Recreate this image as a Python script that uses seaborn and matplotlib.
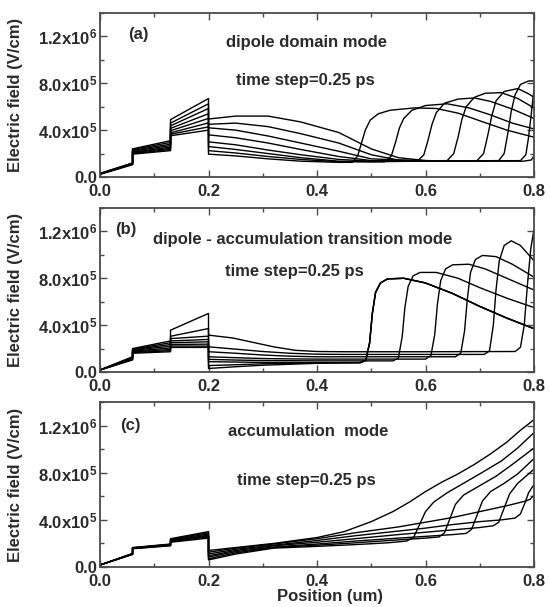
import matplotlib
matplotlib.use("Agg")
import matplotlib.pyplot as plt
import seaborn as sns
import pandas as pd
from matplotlib.ticker import MultipleLocator, FixedLocator

# ---------------- data (field values in units of 1e5 V/cm) ----------------
SCALE = 1e5
LEFT_X = [0.0, 0.06, 0.06, 0.13, 0.13, 0.2]

X_TICKS = [0.0, 0.2, 0.4, 0.6, 0.8]
X_TICK_LABELS = ["0.0", "0.2", "0.4", "0.6", "0.8"]
Y_TICKS = [0.0, 4e5, 8e5, 1.2e6]
Y_TICK_LABELS = ["0.0", r"4.0x10$^{5}$", r"8.0x10$^{5}$", r"1.2x10$^{6}$"]

PANEL_TAGS = ["(a)", "(b)", "(c)"]
PANEL_TITLES = ["dipole domain mode",
                "dipole - accumulation transition mode",
                "accumulation  mode"]
STEP_TEXT = "time step=0.25 ps"

# panel (a)
A_LEFT_Y = [
    [0.30, 1.20, 2.40, 3.10, 4.90, 6.70],
    [0.30, 1.18, 2.35, 2.95, 4.60, 6.25],
    [0.28, 1.16, 2.28, 2.80, 4.37, 5.85],
    [0.27, 1.14, 2.20, 2.68, 4.15, 5.40],
    [0.26, 1.12, 2.13, 2.55, 3.95, 5.00],
    [0.25, 1.10, 2.07, 2.45, 3.77, 4.62],
    [0.24, 1.08, 2.00, 2.35, 3.65, 4.28],
    [0.23, 1.05, 1.95, 2.25, 3.52, 4.00],
]
A_RIGHT_X = [
    [0.2, 0.25, 0.31, 0.37, 0.44, 0.5, 0.55, 0.6, 0.7, 0.78, 0.795, 0.8],
    [0.2, 0.25, 0.31, 0.37, 0.44, 0.5, 0.55, 0.65, 0.775, 0.785, 0.79, 0.795, 0.8],
    [0.2, 0.25, 0.31, 0.37, 0.44, 0.5, 0.6, 0.735, 0.745, 0.752, 0.758, 0.765, 0.775, 0.79, 0.8],
    [0.2, 0.25, 0.31, 0.37, 0.44, 0.5, 0.6, 0.695, 0.707, 0.715, 0.722, 0.73, 0.745, 0.77, 0.79, 0.8],
    [0.2, 0.25, 0.31, 0.37, 0.44, 0.5, 0.64, 0.652, 0.66, 0.667, 0.675, 0.69, 0.71, 0.74, 0.77, 0.8],
    [0.2, 0.25, 0.31, 0.37, 0.44, 0.5, 0.585, 0.597, 0.605, 0.612, 0.62, 0.635, 0.66, 0.69, 0.72, 0.76, 0.8],
    [0.2, 0.25, 0.31, 0.37, 0.44, 0.525, 0.537, 0.545, 0.552, 0.56, 0.575, 0.6, 0.64, 0.68, 0.72, 0.76, 0.8],
    [0.2, 0.25, 0.31, 0.37, 0.44, 0.465, 0.475, 0.482, 0.489, 0.498, 0.513, 0.535, 0.58, 0.62, 0.66, 0.7, 0.75, 0.8],
]
A_RIGHT_Y = [
    [4.95, 5.2, 5.2, 4.7, 3.8, 2.4, 1.65, 1.4, 1.35, 1.35, 1.45, 1.8],
    [4.5, 4.6, 4.3, 3.7, 2.9, 1.9, 1.45, 1.35, 1.4, 1.9, 3.4, 5.4, 7.5],
    [4.2, 4.0, 3.5, 2.9, 2.2, 1.55, 1.35, 1.4, 2.0, 3.8, 5.6, 7.0, 7.9, 8.2, 8.2],
    [3.6, 3.35, 2.9, 2.35, 1.75, 1.4, 1.35, 1.4, 2.0, 3.6, 5.2, 6.5, 7.3, 7.55, 7.1, 6.8],
    [3.0, 2.75, 2.3, 1.9, 1.5, 1.35, 1.4, 2.0, 3.4, 4.9, 6.0, 6.8, 7.15, 7.2, 6.7, 5.9],
    [2.6, 2.35, 2.0, 1.65, 1.35, 1.3, 1.35, 1.9, 3.2, 4.5, 5.5, 6.3, 6.65, 6.75, 6.45, 5.8, 5.0],
    [2.25, 2.05, 1.75, 1.5, 1.3, 1.3, 1.8, 3.0, 4.2, 5.0, 5.7, 6.1, 6.25, 5.9, 5.3, 4.6, 4.1],
    [1.95, 1.8, 1.55, 1.35, 1.25, 1.25, 1.8, 2.9, 4.0, 4.85, 5.4, 5.7, 5.9, 5.85, 5.45, 4.8, 4.0, 3.4],
]

# panel (b)
B_LEFT_Y = [
    [0.17, 1.30, 2.00, 2.65, 3.57, 5.00],
    [0.17, 1.27, 1.95, 2.50, 3.05, 3.71],
    [0.17, 1.23, 1.90, 2.35, 2.85, 3.06],
    [0.17, 1.19, 1.85, 2.20, 2.65, 2.78],
    [0.17, 1.15, 1.78, 2.05, 2.50, 2.58],
    [0.17, 1.11, 1.72, 1.92, 2.35, 2.38],
    [0.17, 1.07, 1.66, 1.82, 2.22, 2.21],
    [0.17, 1.03, 1.60, 1.73, 2.10, 2.10],
]
B_RIGHT_X = [
    [0.2, 0.245, 0.28, 0.32, 0.36, 0.4, 0.45, 0.6, 0.765, 0.775, 0.782, 0.788, 0.794, 0.8],
    [0.2, 0.25, 0.3, 0.35, 0.4, 0.45, 0.6, 0.708, 0.718, 0.725, 0.73, 0.736, 0.745, 0.758, 0.775, 0.8],
    [0.2, 0.25, 0.3, 0.35, 0.4, 0.5, 0.655, 0.665, 0.672, 0.677, 0.683, 0.692, 0.705, 0.73, 0.76, 0.8],
    [0.2, 0.25, 0.3, 0.35, 0.4, 0.5, 0.6, 0.61, 0.617, 0.622, 0.628, 0.637, 0.65, 0.68, 0.71, 0.75, 0.8],
    [0.2, 0.25, 0.3, 0.4, 0.54, 0.55, 0.557, 0.562, 0.568, 0.577, 0.59, 0.62, 0.66, 0.7, 0.75, 0.8],
    [0.2, 0.25, 0.3, 0.4, 0.48, 0.49, 0.497, 0.502, 0.508, 0.517, 0.53, 0.56, 0.6, 0.65, 0.7, 0.75, 0.8],
    [0.2, 0.25, 0.3, 0.4, 0.48, 0.49, 0.497, 0.502, 0.508, 0.517, 0.53, 0.56, 0.6, 0.65, 0.7, 0.75, 0.8],
    [0.2, 0.25, 0.3, 0.4, 0.48, 0.49, 0.497, 0.502, 0.508, 0.517, 0.53, 0.56, 0.6, 0.65, 0.7, 0.75, 0.8],
]
B_RIGHT_Y = [
    [3.15, 2.9, 2.55, 2.15, 1.85, 1.75, 1.73, 1.73, 1.75, 2.1, 4.0, 7.5, 10.5, 12.2],
    [2.15, 1.95, 1.75, 1.6, 1.52, 1.5, 1.5, 1.5, 1.8, 4.0, 7.0, 9.5, 10.8, 11.2, 10.8, 9.5],
    [1.73, 1.6, 1.45, 1.35, 1.3, 1.3, 1.3, 1.6, 3.5, 6.2, 8.5, 9.6, 9.95, 9.85, 9.2, 8.1],
    [1.3, 1.22, 1.15, 1.12, 1.1, 1.1, 1.1, 1.4, 3.2, 5.8, 7.8, 8.8, 9.15, 9.2, 8.8, 8.0, 7.0],
    [1.08, 1.02, 0.98, 0.95, 0.95, 1.2, 3.0, 5.5, 7.3, 8.2, 8.5, 8.5, 8.0, 7.2, 6.3, 5.5],
    [0.88, 0.85, 0.82, 0.8, 0.8, 1.0, 2.5, 5.0, 6.8, 7.6, 7.95, 8.0, 7.6, 6.7, 5.6, 4.6, 3.7],
    [0.55, 0.62, 0.7, 0.78, 0.8, 1.0, 2.5, 5.0, 6.8, 7.6, 7.95, 8.0, 7.6, 6.7, 5.6, 4.6, 3.7],
    [0.3, 0.45, 0.58, 0.74, 0.8, 1.0, 2.5, 5.0, 6.8, 7.6, 7.95, 8.0, 7.6, 6.7, 5.6, 4.6, 3.7],
]

# panel (c)
C_LEFT_Y = [
    [0.17, 1.15, 1.65, 1.95, 2.40, 3.00],
    [0.17, 1.13, 1.63, 1.92, 2.35, 2.90],
    [0.17, 1.12, 1.62, 1.90, 2.30, 2.80],
    [0.17, 1.10, 1.60, 1.88, 2.25, 2.70],
    [0.17, 1.09, 1.58, 1.85, 2.20, 2.62],
    [0.17, 1.08, 1.57, 1.83, 2.15, 2.55],
    [0.17, 1.07, 1.55, 1.80, 2.10, 2.45],
]
C_RIGHT_X = [
    [0.2, 0.25, 0.32, 0.4, 0.45, 0.5, 0.54, 0.57, 0.6, 0.63, 0.66, 0.69, 0.72, 0.75, 0.775, 0.8],
    [0.2, 0.25, 0.32, 0.4, 0.47, 0.55, 0.6, 0.65, 0.7, 0.75, 0.785, 0.793, 0.8],
    [0.2, 0.25, 0.32, 0.4, 0.47, 0.55, 0.6, 0.65, 0.7, 0.74, 0.765, 0.775, 0.783, 0.79, 0.8],
    [0.2, 0.25, 0.32, 0.4, 0.47, 0.55, 0.6, 0.65, 0.7, 0.725, 0.735, 0.745, 0.755, 0.77, 0.785, 0.8],
    [0.2, 0.25, 0.32, 0.4, 0.47, 0.55, 0.6, 0.65, 0.675, 0.685, 0.695, 0.705, 0.72, 0.745, 0.77, 0.8],
    [0.2, 0.25, 0.32, 0.4, 0.47, 0.55, 0.6, 0.625, 0.635, 0.645, 0.655, 0.67, 0.7, 0.73, 0.76, 0.8],
    [0.2, 0.25, 0.32, 0.4, 0.47, 0.53, 0.565, 0.578, 0.59, 0.6, 0.615, 0.64, 0.67, 0.7, 0.74, 0.77, 0.8],
]
C_RIGHT_Y = [
    [1.4, 1.65, 2.0, 2.5, 3.0, 3.85, 4.7, 5.5, 6.4, 7.2, 7.9, 8.7, 9.6, 10.6, 11.6, 12.5],
    [1.25, 1.6, 1.95, 2.4, 2.9, 3.4, 3.8, 4.2, 4.7, 5.2, 5.6, 5.75, 6.1],
    [1.1, 1.5, 1.85, 2.25, 2.65, 3.05, 3.3, 3.6, 3.85, 4.0, 4.15, 4.5, 5.4, 6.3, 7.0],
    [0.95, 1.4, 1.8, 2.1, 2.4, 2.75, 2.95, 3.15, 3.35, 3.5, 3.8, 5.0, 6.2, 7.1, 7.7, 8.3],
    [0.85, 1.3, 1.7, 1.95, 2.2, 2.45, 2.6, 2.75, 2.85, 3.2, 4.4, 5.6, 6.4, 7.1, 7.9, 9.2],
    [0.7, 1.2, 1.65, 1.85, 2.05, 2.3, 2.45, 2.55, 2.9, 4.1, 5.3, 6.1, 6.9, 7.7, 8.7, 10.1],
    [0.6, 1.1, 1.6, 1.75, 1.9, 2.05, 2.2, 2.5, 3.7, 4.7, 5.5, 6.3, 7.1, 7.9, 9.0, 10.1, 11.4],
]

PANELS = [(A_LEFT_Y, A_RIGHT_X, A_RIGHT_Y),
          (B_LEFT_Y, B_RIGHT_X, B_RIGHT_Y),
          (C_LEFT_Y, C_RIGHT_X, C_RIGHT_Y)]


def build_frame(left_y, right_x, right_y):
    rows = []
    for i, (ly, rx, ry) in enumerate(zip(left_y, right_x, right_y)):
        xs = LEFT_X + rx
        ys = ly + ry
        for k, (x, y) in enumerate(zip(xs, ys)):
            rows.append((i, k, x, y * SCALE))
    return pd.DataFrame(rows, columns=["curve", "order", "x", "y"])


# ---------------- style ----------------
sns.set_style("ticks")
plt.rcParams["font.family"] = ["Liberation Sans", "DejaVu Sans"]
plt.rcParams["font.weight"] = "bold"
plt.rcParams["mathtext.fontset"] = "custom"
plt.rcParams["mathtext.rm"] = "Liberation Sans:bold"
plt.rcParams["mathtext.it"] = "Liberation Sans:bold"
plt.rcParams["mathtext.bf"] = "Liberation Sans:bold"

TXT = "#2a2a2a"
SPINE = "#4a4a4a"

fig = plt.figure(figsize=(5.5, 6.07), dpi=100)
fig.patch.set_facecolor("white")

W = 550.0
H = 607.0
frames = [(100, 13, 534, 177), (100, 208, 534, 372), (100, 402, 534, 567)]
tag_pos = [(0.064, 0.866), (0.035, 0.866), (0.046, 0.86)]
title_pos = [(0.475, 0.823), (0.468, 0.81), (0.48, 0.82)]
step_pos = [(0.473, 0.59), (0.447, 0.61), (0.475, 0.527)]

for p, (ly, rx, ry) in enumerate(PANELS):
    l, t, r, b = frames[p]
    ax = fig.add_axes([l / W, 1 - b / H, (r - l) / W, (b - t) / H])
    df = build_frame(ly, rx, ry)
    sns.lineplot(data=df, x="x", y="y", units="curve", estimator=None,
                 sort=False, color="black", lw=1.0, ax=ax, legend=False)
    ax.set_xlim(0, 0.8)
    ax.set_ylim(0, 1.4e6)
    ax.xaxis.set_major_locator(FixedLocator(X_TICKS))
    ax.xaxis.set_minor_locator(MultipleLocator(0.1))
    ax.yaxis.set_major_locator(FixedLocator(Y_TICKS))
    ax.yaxis.set_minor_locator(MultipleLocator(2e5))
    ax.set_xticklabels(X_TICK_LABELS)
    ax.set_yticklabels(Y_TICK_LABELS)
    ax.tick_params(which="both", direction="in", top=True, right=True,
                   color=SPINE, labelcolor=TXT, labelsize=12, width=1.0)
    ax.tick_params(which="major", length=5)
    ax.tick_params(which="minor", length=3)
    ax.tick_params(axis="x", pad=5)
    ax.tick_params(axis="y", pad=2)
    for s in ax.spines.values():
        s.set_color(SPINE)
        s.set_linewidth(1.3)
    ax.set_ylabel("Electric field (V/cm)", fontsize=12, fontweight="bold", color=TXT)
    ax.yaxis.set_label_coords(-0.178, 0.5)
    if p == 2:
        ax.set_xlabel("Position (um)", fontsize=12, fontweight="bold", color=TXT)
        ax.xaxis.set_label_coords(0.53, -0.135)
    else:
        ax.set_xlabel("")
    ax.text(*tag_pos[p], PANEL_TAGS[p], transform=ax.transAxes, fontsize=12,
            fontweight="bold", color=TXT, ha="left", va="center")
    ax.text(*title_pos[p], PANEL_TITLES[p], transform=ax.transAxes, fontsize=12,
            fontweight="bold", color=TXT, ha="center", va="center")
    ax.text(*step_pos[p], STEP_TEXT, transform=ax.transAxes, fontsize=12,
            fontweight="bold", color=TXT, ha="center", va="center")

fig.savefig("out.png", dpi=100, facecolor="white")
